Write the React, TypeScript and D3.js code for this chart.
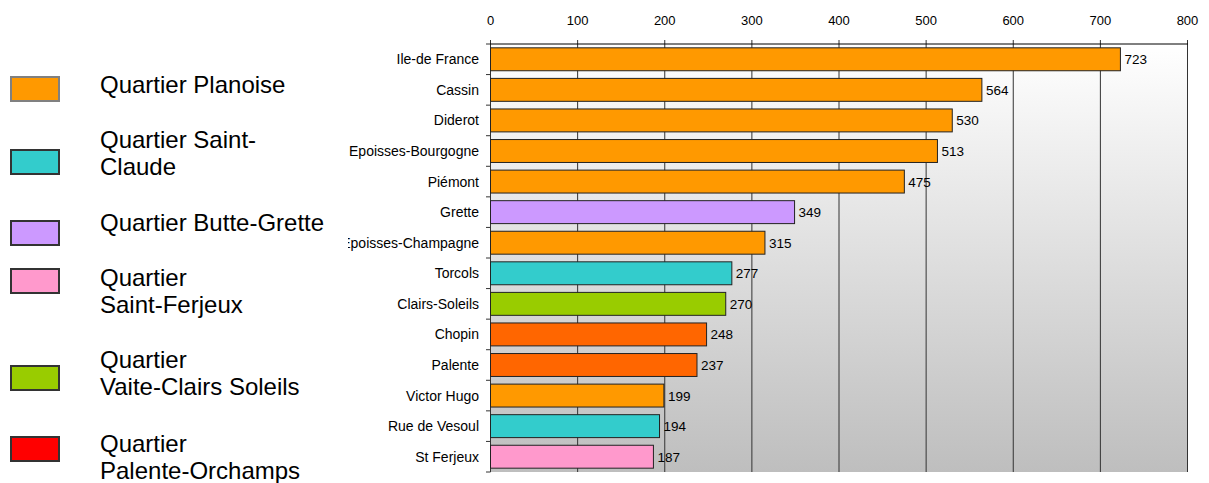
import React from 'react';
import * as d3 from 'd3';

// --- data ---
const categories = [
  'Ile-de France', 'Cassin', 'Diderot', 'Epoisses-Bourgogne', 'Piémont', 'Grette',
  'Epoisses-Champagne', 'Torcols', 'Clairs-Soleils', 'Chopin', 'Palente',
  'Victor Hugo', 'Rue de Vesoul', 'St Ferjeux',
];
const values = [723, 564, 530, 513, 475, 349, 315, 277, 270, 248, 237, 199, 194, 187];
const quartierOfBar = [
  'Planoise', 'Planoise', 'Planoise', 'Planoise', 'Planoise', 'Butte-Grette',
  'Planoise', 'Saint-Claude', 'Vaite', 'Palente', 'Palente',
  'Planoise', 'Saint-Claude', 'Saint-Ferjeux',
];
const xTicks = [0, 100, 200, 300, 400, 500, 600, 700, 800];

const legendKeys = ['Planoise', 'Saint-Claude', 'Butte-Grette', 'Saint-Ferjeux', 'Vaite', 'Palente'];
const legendLabels = [
  ['Quartier Planoise'],
  ['Quartier Saint-', 'Claude'],
  ['Quartier Butte-Grette'],
  ['Quartier', 'Saint-Ferjeux'],
  ['Quartier', 'Vaite-Clairs Soleils'],
  ['Quartier', 'Palente-Orchamps'],
];

const barColor: Record<string, string> = {
  'Planoise': '#ff9900',
  'Saint-Claude': '#33cccc',
  'Butte-Grette': '#cc99ff',
  'Saint-Ferjeux': '#ff99cc',
  'Vaite': '#99cc00',
  'Palente': '#ff6600',
};
const legendColor: Record<string, string> = { ...barColor, 'Palente': '#ff0000' };

const W = 1209;
const H = 483;
const FONT = '"Liberation Sans", Arial, sans-serif';

// legend layout (box top, first baseline)
const legendBoxTop = [77, 150, 221, 269, 366, 437];
const legendBase = [93, 148, 231, 286, 368, 451.5];

export default function App() {
  const top = 44;
  const bottom = 472;
  const x = d3.scaleLinear().domain([0, 800]).range([490.5, 1187.5]);
  const y = d3.scaleBand<string>()
    .domain(categories)
    .range([top, bottom])
    .paddingInner(0.25)
    .paddingOuter(0.125);
  const step = y.step();

  return (
    <svg width={W} height={H} style={{ position: 'absolute', left: 0, top: 0 }} fontFamily={FONT}>
      <defs>
        <linearGradient id="plotBg" x1="0" y1="0" x2="0" y2="1">
          <stop offset="0%" stopColor="#ffffff" />
          <stop offset="100%" stopColor="#bebebe" />
        </linearGradient>
        <clipPath id="labelClip">
          <rect x={348} y={0} width={200} height={H} />
        </clipPath>
      </defs>

      <rect width={W} height={H} fill="#fff" />

      {/* plot background */}
      <rect x={x(0)} y={top} width={x(800) - x(0)} height={bottom - top} fill="url(#plotBg)" />

      {/* vertical grid + top ticks */}
      {xTicks.map(t => (
        <g key={t}>
          <line x1={x(t)} x2={x(t)} y1={top - 4} y2={bottom} stroke="#333" strokeWidth={1} />
          <text x={x(t)} y={25} fontSize={13} textAnchor="middle" fill="#000">{t}</text>
        </g>
      ))}
      <line x1={x(0) - 0.5} x2={x(800) + 0.5} y1={top} y2={top} stroke="#000" strokeWidth={1} />

      {/* left axis ticks at band boundaries */}
      {d3.range(categories.length + 1).map(i => (
        <line key={i} x1={x(0) - 4.5} x2={x(0)} y1={top + i * step} y2={top + i * step} stroke="#333" />
      ))}

      {/* bars */}
      {categories.map((c, i) => {
        const y0 = y(c)!;
        const cy = y0 + y.bandwidth() / 2;
        return (
          <g key={c}>
            <rect
              x={x(0)}
              y={y0}
              width={x(values[i]) - x(0)}
              height={y.bandwidth()}
              fill={barColor[quartierOfBar[i]]}
              stroke="#222"
              strokeWidth={1}
            />
            <text x={x(values[i]) + 4} y={cy + 5} fontSize={13.5} fill="#000">
              {values[i]}
            </text>
            <text
              x={479}
              y={cy + 5}
              fontSize={14}
              textAnchor="end"
              fill="#000"
              clipPath="url(#labelClip)"
            >
              {c}
            </text>
          </g>
        );
      })}

      {/* legend */}
      {legendKeys.map((k, i) => (
        <g key={k}>
          <rect
            x={11}
            y={legendBoxTop[i]}
            width={48}
            height={24}
            fill={legendColor[k]}
            stroke={i === 0 ? '#808080' : '#333'}
            strokeWidth={2}
          />
          {legendLabels[i].map((line, j) => (
            <text key={j} x={100} y={legendBase[i] + j * 27.3} fontSize={24} fill="#000">
              {line}
            </text>
          ))}
        </g>
      ))}
    </svg>
  );
}
